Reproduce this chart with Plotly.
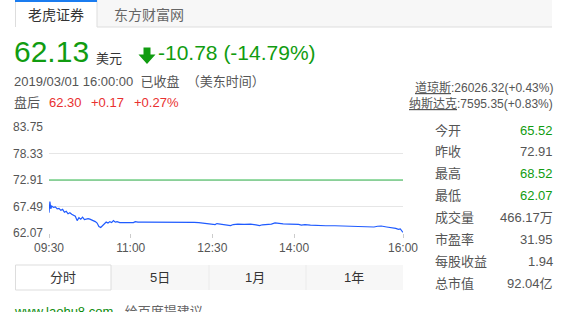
import plotly.graph_objects as go

# ---------------- data ----------------
minutes = [0, 1, 2, 3, 5, 7, 9, 11, 13, 15, 17, 19, 21, 23, 25, 27, 29, 31, 33, 35,
           37, 39, 41, 43, 45, 48, 51, 53, 55, 57, 59, 61, 63, 65, 67, 69, 71, 73, 75,
           78, 82, 86, 90, 93, 95, 98, 105, 115, 125, 129, 132, 140, 150, 155, 160,
           165, 170, 180, 183, 185, 190, 197, 200, 203, 208, 215, 222, 228, 232, 235,
           240, 245, 249, 252, 258, 265, 270, 275, 278, 282, 288, 295, 305, 315, 325,
           328, 332, 340, 350, 358, 362, 366, 372, 378, 382, 385, 387, 390]
prices = [66.2, 68.52, 67.0, 67.6, 67.3, 67.4, 67.0, 67.1, 66.7, 66.9, 66.3, 66.5, 66.0,
          66.2, 65.9, 65.7, 65.5, 64.6, 65.2, 64.9, 65.3, 64.8, 64.9, 65.0, 64.9, 64.7,
          64.4, 64.1, 63.4, 63.2, 63.6, 64.0, 64.3, 64.1, 64.4, 64.2, 64.6, 64.3, 64.4,
          64.2, 64.2, 64.2, 64.3, 64.2, 64.4, 64.3, 64.3, 64.3, 64.3, 64.4, 64.3, 64.35,
          64.4, 64.3, 64.25, 64.2, 64.1, 64.0, 63.8, 64.0, 63.9, 63.75, 63.6, 63.8, 63.9,
          63.85, 63.9, 63.75, 63.6, 63.75, 63.8, 63.9, 64.15, 64.05, 63.95, 63.9, 63.9,
          63.85, 63.7, 63.8, 63.7, 63.6, 63.55, 63.55, 63.5, 63.6, 63.45, 63.4, 63.35,
          63.3, 63.45, 63.5, 63.3, 63.2, 63.0, 62.8, 62.9, 62.2]
prev_close = 72.91
y_ticks = [62.07, 67.49, 72.91, 78.33, 83.75]
x_tick_vals = [0, 90, 180, 270, 390]
x_tick_text = ["09:30", "11:00", "12:30", "14:00", "16:00"]

price = "62.13"
currency = "美元"
change_text = "-10.78 (-14.79%)"
time_text = "2019/03/01 16:00:00&nbsp;&nbsp;已收盘&nbsp;&nbsp;（美东时间）"
after_label = "盘后"
after_vals = ["62.30", "+0.17", "+0.27%"]
indices = [("道琼斯", ":26026.32(+0.43%)"), ("纳斯达克", ":7595.35(+0.83%)")]
stat_labels = ["今开", "昨收", "最高", "最低", "成交量", "市盈率", "每股收益", "总市值"]
stat_values = ["65.52", "72.91", "68.52", "62.07", "466.17万", "31.95", "1.94", "92.04亿"]
stat_colors = ["g", "n", "g", "g", "n", "n", "n", "n"]
top_tabs = ["老虎证券", "东方财富网"]
period_tabs = ["分时", "5日", "1月", "1年"]
footer_link = "www.laohu8.com"
footer_text = " - 给百度提建议"

# ---------------- style ----------------
W, H = 572, 312
L, R, T, B = 49, 169, 127, 79
PW, PH = W - L - R, H - T - B
GREEN = "#119c11"
RED = "#e93030"
GRAY = "#555555"
DARK = "#333333"
FONT = "Liberation Sans, Arial, Noto Sans CJK SC, sans-serif"


def px(x):
    return (x - L) / PW


def py(y):
    return (H - B - y) / PH


fig = go.Figure()
fig.add_trace(go.Scatter(x=minutes, y=prices, mode="lines",
                         line=dict(color="#1f5bff", width=1.2), hoverinfo="skip"))

shapes = []
annos = []


def rect(x0, y0, x1, y1, fill=None, line=None, lw=1):
    shapes.append(dict(type="rect", xref="paper", yref="paper",
                       x0=px(x0), x1=px(x1), y0=py(y0), y1=py(y1),
                       fillcolor=fill or "rgba(0,0,0,0)",
                       line=dict(color=line or "rgba(0,0,0,0)", width=lw if line else 0),
                       layer="below"))


def hline(x0, x1, y, color, w=1):
    shapes.append(dict(type="line", xref="paper", yref="paper",
                       x0=px(x0), x1=px(x1), y0=py(y), y1=py(y),
                       line=dict(color=color, width=w)))


def vline(x, y0, y1, color, w=1):
    shapes.append(dict(type="line", xref="paper", yref="paper",
                       x0=px(x), x1=px(x), y0=py(y0), y1=py(y1),
                       line=dict(color=color, width=w)))


def text(x, y, s, size=13, color=DARK, anchor="left"):
    annos.append(dict(xref="paper", yref="paper", x=px(x), y=py(y), text=s,
                      showarrow=False, xanchor=anchor, yanchor="middle",
                      font=dict(size=size, color=color, family=FONT),
                      borderpad=0, borderwidth=0))


# top tab bar
rect(15, 0, 552, 27, fill="#f7f7f7")
rect(15, 0, 97, 27.5, fill="#ffffff")
hline(97, 552, 27, "#dddddd")
vline(15.5, 0, 27, "#dddddd")
vline(97, 0, 27, "#dddddd")
hline(15, 97, 1, "#1a7cf0", 2)
text(56, 15, top_tabs[0], 14, DARK, "center")
text(149, 15, top_tabs[1], 14, "#666666", "center")

# price header
text(14, 51, price, 30, GREEN)
text(96, 59, currency, 13, DARK)
shapes.append(dict(type="path", xref="paper", yref="paper",
                   path="M {a},{b} L {c},{b} L {c},{d} L {e},{d} L {f},{g} L {h},{d} L {a2},{d} Z".format(
                       a=px(143.5), b=py(47.5), c=px(150.5), d=py(54.5), e=px(155.5),
                       f=px(147), g=py(64), h=px(138.5), a2=px(143.5)),
                   fillcolor=GREEN, line=dict(width=0)))
text(158, 52, change_text, 21, GREEN)
text(14, 81, time_text, 13, GRAY)
text(14, 102, after_label, 13, GRAY)
for xx, v in zip([49, 91, 134], after_vals):
    text(xx, 102, v, 13, RED)

# index quotes
for yy, (nm, val) in zip([87, 104], indices):
    text(553, yy, "<u>" + nm + "</u>" + val, 12, GRAY, "right")

# stats table
for i, (lab, val, c) in enumerate(zip(stat_labels, stat_values, stat_colors)):
    yy = 130 + i * 21.9
    text(435.5, yy, lab, 13, GRAY)
    text(553, yy, val, 13, GREEN if c == "g" else GRAY, "right")

# prev close line
shapes.append(dict(type="line", xref="paper", yref="y", x0=0, x1=1,
                   y0=prev_close, y1=prev_close, line=dict(color="#2fb84a", width=1.2)))

# bottom period tabs
rect(111, 265, 403, 290, fill="#f7f7f7")
vline(209, 265, 290, "#ebebeb")
vline(306, 265, 290, "#ebebeb")
rect(15.5, 265, 111, 290, fill="#ffffff", line="#dddddd")
for xx, t in zip([63, 160, 255, 354], period_tabs):
    text(xx, 277, t, 13, DARK, "center")

# footer
text(14, 311, "<span style='color:#0d8c0d'>" + footer_link + "</span>" + footer_text, 13, "#666666")

fig.update_layout(
    width=W, height=H, margin=dict(l=L, r=R, t=T, b=B),
    paper_bgcolor="white", plot_bgcolor="white", showlegend=False,
    shapes=shapes, annotations=annos,
    font=dict(family=FONT),
    xaxis=dict(range=[0, 390], tickvals=x_tick_vals, ticktext=x_tick_text,
               showgrid=False, zeroline=False, showline=False,
               ticks="outside", ticklen=4, tickcolor="#cccccc",
               tickfont=dict(size=12, color=GRAY), fixedrange=True),
    yaxis=dict(range=[y_ticks[0], y_ticks[-1]], tickvals=y_ticks,
               ticktext=["%.2f" % v for v in y_ticks],
               showgrid=True, gridcolor="#e6e6e6", gridwidth=1, zeroline=False,
               showline=False, ticks="", ticklabelstandoff=5,
               tickfont=dict(size=12, color=GRAY), fixedrange=True),
)

fig.write_html("out.html", config={"displayModeBar": False})
